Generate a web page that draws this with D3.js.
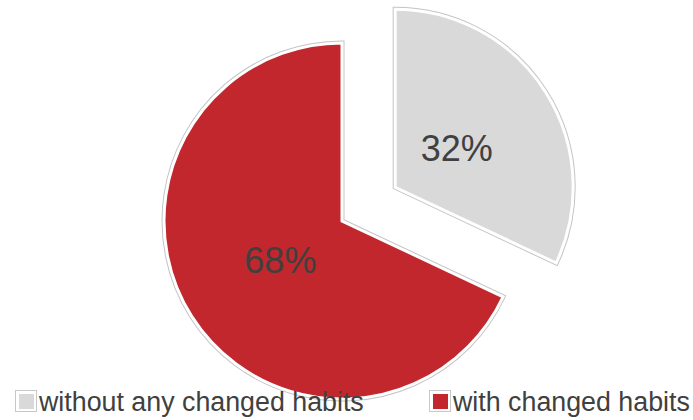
<!DOCTYPE html>
<html>
<head>
<meta charset="utf-8">
<script src="https://cdn.jsdelivr.net/npm/d3@7/dist/d3.min.js"></script>
<style>
  html, body { margin: 0; padding: 0; background: #ffffff; }
  svg { display: block; font-family: "Liberation Sans", Arial, sans-serif; }
</style>
</head>
<body>
<svg id="chart" width="693" height="420"></svg>
<script>
// Share of respondents by habit change
const categories = ["without any changed habits", "with changed habits"];
const shares = [32, 68];
const labels = ["32%", "68%"];
const colors = ["#d9d9d9", "#c1272d"];

const svg = d3.select("#chart");
const cx = 342, cy = 221, radius = 178;
const explode = [63, 0];   // the first slice is pulled out from the centre

const pie = d3.pie().sort(null).value(d => d)(shares);
const arc = d3.arc().innerRadius(0).outerRadius(radius);
const labelArc = d3.arc().innerRadius(radius * 0.41).outerRadius(radius * 0.41);

const g = svg.append("g").attr("transform", `translate(${cx},${cy})`);

const slice = g.selectAll("g.slice")
  .data(pie)
  .join("g")
  .attr("class", "slice")
  .attr("transform", (d, i) => {
    const a = (d.startAngle + d.endAngle) / 2;
    return `translate(${Math.sin(a) * explode[i]},${-Math.cos(a) * explode[i]})`;
  });

// thin grey outline with a white rim inside it
slice.append("path")
  .attr("d", arc)
  .attr("fill", (d, i) => colors[i])
  .attr("stroke", "#c4c4c4")
  .attr("stroke-width", 5)
  .attr("stroke-linejoin", "miter");
slice.append("path")
  .attr("d", arc)
  .attr("fill", (d, i) => colors[i])
  .attr("stroke", "#ffffff")
  .attr("stroke-width", 3)
  .attr("stroke-linejoin", "miter");

slice.append("text")
  .attr("transform", d => `translate(${labelArc.centroid(d)})`)
  .attr("text-anchor", "middle")
  .attr("dy", "0.36em")
  .attr("font-size", 36)
  .attr("fill", "#404040")
  .text((d, i) => labels[i]);

// legend
const legendX = [15, 429];
const legend = svg.selectAll("g.legend")
  .data(categories)
  .join("g")
  .attr("class", "legend")
  .attr("transform", (d, i) => `translate(${legendX[i]},390)`);

legend.append("rect")
  .attr("x", 0.5).attr("y", 0.5)
  .attr("width", 21).attr("height", 21)
  .attr("fill", "#ffffff")
  .attr("stroke", "#c8c8c8");
legend.append("rect")
  .attr("x", 4).attr("y", 4)
  .attr("width", 15).attr("height", 15)
  .attr("fill", (d, i) => colors[i]);
legend.append("text")
  .attr("x", 24)
  .attr("y", 21)
  .attr("font-size", 26.8)
  .attr("fill", "#404040")
  .text(d => d);
</script>
</body>
</html>
